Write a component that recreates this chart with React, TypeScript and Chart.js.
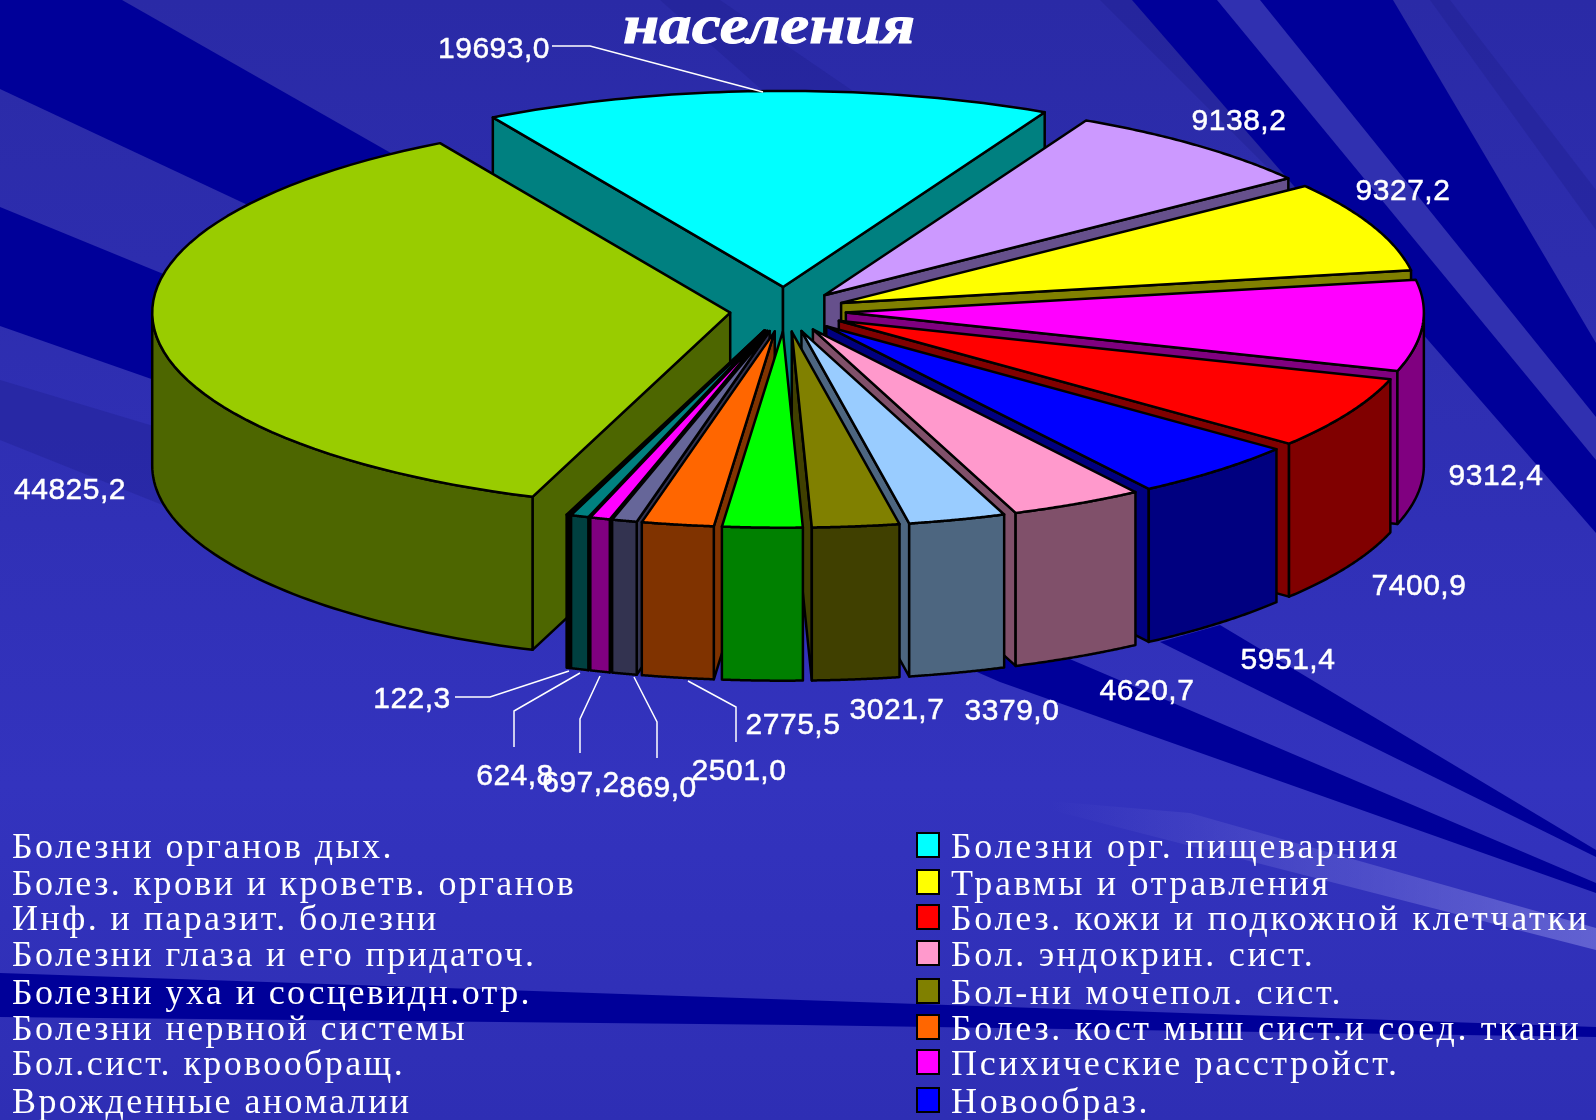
import React, { useEffect, useRef } from "react";
import { Chart, registerables } from "chart.js";

Chart.register(...registerables);

const chartTitle = "населения";
const categories = [
  "Болезни органов дых.",
  "Болезни орг. пищеварния",
  "Болез. крови и кроветв. органов",
  "Травмы и отравления",
  "Психические расстройст.",
  "Болез. кожи и подкожной клетчатки",
  "Новообраз.",
  "Бол. эндокрин. сист.",
  "Инф. и паразит. болезни",
  "Бол-ни мочепол. сист.",
  "Болезни глаза и его придаточ.",
  "Болез. кост мыш сист.и соед. ткани",
  "Болезни уха и сосцевидн.отр.",
  "Болезни нервной системы",
  "Бол.сист. кровообращ.",
  "Врожденные аномалии",
];
const values = [44825.2, 19693.0, 9138.2, 9327.2, 9312.4, 7400.9, 5951.4, 4620.7, 3379.0, 3021.7, 2775.5, 2501.0, 869.0, 697.2, 624.8, 122.3];
const valueTexts = ["44825,2", "19693,0", "9138,2", "9327,2", "9312,4", "7400,9", "5951,4", "4620,7", "3379,0", "3021,7", "2775,5", "2501,0", "869,0", "697,2", "624,8", "122,3"];
const topColors = ["#99CC00", "#00FFFF", "#CC99FF", "#FFFF00", "#FF00FF", "#FF0000", "#0000FF", "#FF99CC", "#99CCFF", "#808000", "#00FF00", "#FF6600", "#666699", "#FF00FF", "#008080", "#000000"];
const sideColors = ["#4D6600", "#008080", "#66508C", "#808000", "#800080", "#800000", "#000080", "#80506A", "#4D6680", "#404000", "#008000", "#803300", "#333350", "#800080", "#004040", "#000000"];
const explode = [55, 71, 61, 61, 61, 61, 61, 61, 61, 61, 61, 61, 61, 61, 61, 61];
const legendLeft = ["Болезни органов дых.", "Болез. крови и кроветв. органов", "Инф. и паразит. болезни", "Болезни глаза и его придаточ.", "Болезни уха и сосцевидн.отр.", "Болезни нервной системы", "Бол.сист. кровообращ.", "Врожденные аномалии"];
const legendRight = ["Болезни орг. пищеварния", "Травмы и отравления", "Болез. кожи и подкожной клетчатки", "Бол. эндокрин. сист.", "Бол-ни мочепол. сист.", "Болез. кост мыш сист.и соед. ткани", "Психические расстройст.", "Новообраз."];

// layout (pixels)
const W = 1596, H = 1120;
const CX = 785, CY = 311, RX = 578, RY = 196, DEPTH = 153;
const legendBaselines = [858, 895, 930, 966, 1004, 1040, 1075, 1113];
const labelPos: [number, number][] = [[70, 491], [494, 50], [1239, 122], [1403, 192], [1496, 477], [1419, 587], [1288, 661], [1147, 692], [1012, 712], [897, 711], [793, 726], [739, 772], [658, 789], [581, 784], [515, 777], [412, 700]];
const leaders: [number, number][][] = [
  [[552, 46], [590, 46], [763, 92]],
  [[455, 697], [490, 697], [569, 671]],
  [[514, 747], [514, 711], [580, 673]],
  [[580, 753], [580, 719], [600, 676]],
  [[657, 758], [657, 722], [634, 677]],
  [[736, 742], [736, 707], [688, 681]],
];
const DARK = "#000099";
const darkRays: [number, number][][] = [
  [[0, 0], [122, 0], [600, 272], [600, 370], [0, 89]],
  [[0, 207], [400, 371], [400, 466], [0, 326]],
  [[1132, 0], [1393, 0], [1596, 343], [1596, 533]],
  [[1220, 625], [1596, 850], [1596, 857], [1160, 642]],
  [[880, 570], [1072, 660], [1596, 883], [1596, 893], [1000, 682], [880, 630]],
  [[0, 973], [800, 1000], [1596, 1027], [1596, 1037], [800, 1025], [0, 1017]],
];
const lightRays: [number, number][][] = [
  [[1217, 0], [1260, 0], [1596, 417], [1596, 460]],
];
const subtleRays: [number, number][][] = [
  [[660, 0], [720, 0], [1100, 260], [1000, 300]],
  [[0, 380], [300, 470], [300, 560], [0, 440]],
  [[1100, 0], [1135, 0], [1380, 240], [1340, 240]],
  [[1430, 0], [1450, 0], [1596, 190], [1596, 230]],
];

function poly(ctx: CanvasRenderingContext2D, pts: number[][], close = true) {
  ctx.beginPath();
  pts.forEach((p, i) => (i ? ctx.lineTo(p[0], p[1]) : ctx.moveTo(p[0], p[1])));
  if (close) ctx.closePath();
}

function drawBackground(ctx: CanvasRenderingContext2D) {
  const g = ctx.createLinearGradient(0, 0, 0, H);
  g.addColorStop(0, "#2A2AA6");
  g.addColorStop(0.7, "#3333BE");
  g.addColorStop(1, "#2E2EB4");
  ctx.fillStyle = g;
  ctx.fillRect(0, 0, W, H);
  ctx.fillStyle = "rgba(30,30,140,0.35)";
  subtleRays.forEach((r) => { poly(ctx, r); ctx.fill(); });
  ctx.fillStyle = DARK;
  darkRays.forEach((r) => { poly(ctx, r); ctx.fill(); });
  ctx.fillStyle = "#3030B0";
  lightRays.forEach((r) => { poly(ctx, r); ctx.fill(); });
  const b = ctx.createLinearGradient(1050, 0, 1596, 0);
  b.addColorStop(0, "rgba(130,130,225,0)");
  b.addColorStop(1, "rgba(130,130,225,0.6)");
  ctx.fillStyle = b;
  poly(ctx, [[1000, 797], [1190, 813], [1596, 928], [1596, 950]]);
  ctx.fill();
}

function geometry(chart: any) {
  const arcs = chart.getDatasetMeta(0).data;
  return arcs.map((a: any, i: number) => {
    const mid = (a.startAngle + a.endAngle) / 2;
    const ax = CX + Math.cos(mid) * explode[i];
    const ay = CY + (Math.sin(mid) * explode[i] * RY) / RX;
    return { i, arc: a, a0: a.startAngle, a1: a.endAngle, ax, ay, key: ay + Math.sin(mid) * RY };
  });
}

const piePlugin = {
  id: "pie3d",
  beforeDraw(chart: any) {
    drawBackground(chart.ctx);
  },
  beforeDatasetsDraw(chart: any) {
    const ctx: CanvasRenderingContext2D = chart.ctx;
    const geo = geometry(chart);
    const at = (g: any, t: number, z = 0) => [g.ax + Math.cos(t) * RX, g.ay + Math.sin(t) * RY + z];
    ctx.save();
    ctx.lineJoin = "round";
    ctx.strokeStyle = "#000";
    ctx.lineWidth = 2.5;
    [...geo].sort((p: any, q: any) => p.key - q.key).forEach((g: any) => {
      ctx.fillStyle = sideColors[g.i];
      const face = (t: number) => {
        const e = at(g, t);
        poly(ctx, [[g.ax, g.ay], e, [e[0], e[1] + DEPTH], [g.ax, g.ay + DEPTH]]);
        ctx.fill();
        ctx.stroke();
      };
      if (Math.sin(g.a0 - Math.PI / 2) > 0) face(g.a0);
      if (Math.sin(g.a1 + Math.PI / 2) > 0) face(g.a1);
      for (let k = -1; k <= 1; k++) {
        const lo = Math.max(g.a0, k * 2 * Math.PI);
        const hi = Math.min(g.a1, k * 2 * Math.PI + Math.PI);
        if (hi <= lo) continue;
        const pts: number[][] = [];
        const n = 60;
        for (let j = 0; j <= n; j++) pts.push(at(g, lo + ((hi - lo) * j) / n));
        for (let j = n; j >= 0; j--) pts.push(at(g, lo + ((hi - lo) * j) / n, DEPTH));
        poly(ctx, pts);
        ctx.fill();
        ctx.stroke();
      }
    });
    ctx.restore();
  },
  // the top faces: the library's own arc elements, each moved out and flattened
  beforeDatasetDraw(chart: any) {
    const ctx: CanvasRenderingContext2D = chart.ctx;
    geometry(chart).forEach((g: any) => {
      const a = g.arc;
      ctx.save();
      ctx.translate(g.ax, g.ay);
      ctx.scale(RX / a.outerRadius, RY / a.outerRadius);
      ctx.translate(-a.x, -a.y);
      a.draw(ctx);
      ctx.restore();
    });
    return false;
  },
  afterDatasetsDraw(chart: any) {
    const ctx: CanvasRenderingContext2D = chart.ctx;
    ctx.save();
    ctx.strokeStyle = "#000";
    ctx.lineWidth = 2.5;
    ctx.lineJoin = "round";
    geometry(chart).forEach((g: any) => {
      const pts: number[][] = [[g.ax, g.ay]];
      for (let j = 0; j <= 60; j++) {
        const t = g.a0 + ((g.a1 - g.a0) * j) / 60;
        pts.push([g.ax + Math.cos(t) * RX, g.ay + Math.sin(t) * RY]);
      }
      poly(ctx, pts);
      ctx.stroke();
    });
    ctx.restore();

    ctx.save();
    ctx.strokeStyle = "#FFFFFF";
    ctx.lineWidth = 1.5;
    leaders.forEach((l) => { poly(ctx, l, false); ctx.stroke(); });

    // data labels
    ctx.fillStyle = "#FFFFFF";
    ctx.strokeStyle = "#FFFFFF";
    ctx.lineWidth = 0.5;
    ctx.font = '30px "Liberation Sans"';
    (ctx as any).letterSpacing = "0.5px";
    ctx.textAlign = "center";
    ctx.textBaseline = "middle";
    valueTexts.forEach((t, i) => {
      ctx.fillText(t, labelPos[i][0], labelPos[i][1]);
      ctx.strokeText(t, labelPos[i][0], labelPos[i][1]);
    });

    // legend
    ctx.textAlign = "left";
    ctx.textBaseline = "alphabetic";
    ctx.font = '36px "Liberation Serif"';
    (ctx as any).letterSpacing = "2.4px";
    legendLeft.forEach((t, i) => ctx.fillText(t, 12, legendBaselines[i]));
    (ctx as any).letterSpacing = "2.7px";
    legendRight.forEach((t, i) => {
      ctx.fillStyle = topColors[categories.indexOf(t)];
      ctx.strokeStyle = "#000";
      ctx.lineWidth = 2;
      ctx.fillRect(917, legendBaselines[i] - 25, 22, 24);
      ctx.strokeRect(917, legendBaselines[i] - 25, 22, 24);
      ctx.fillStyle = "#FFFFFF";
      ctx.fillText(t, 951, legendBaselines[i]);
    });

    // title
    (ctx as any).letterSpacing = "0px";
    ctx.font = 'italic bold 54px "Liberation Serif"';
    const w = ctx.measureText(chartTitle).width;
    ctx.translate(623, 43);
    ctx.scale(292 / w, 1);
    ctx.fillText(chartTitle, 0, 0);
    ctx.strokeStyle = "#FFFFFF";
    ctx.lineWidth = 1;
    ctx.strokeText(chartTitle, 0, 0);
    ctx.restore();
  },
};

export default function App() {
  const ref = useRef<HTMLCanvasElement>(null);
  useEffect(() => {
    document.body.style.margin = "0";
    const chart = new Chart(ref.current as HTMLCanvasElement, {
      type: "pie",
      data: {
        labels: categories,
        datasets: [{
          data: values,
          backgroundColor: topColors,
          borderWidth: 0,
          hoverOffset: 0,
        } as any],
      },
      options: {
        responsive: false,
        animation: false,
        rotation: 200,
        layout: { padding: 0 },
        plugins: { legend: { display: false }, title: { display: false }, tooltip: { enabled: false } },
      },
      plugins: [piePlugin],
    } as any);
    return () => chart.destroy();
  }, []);
  return <canvas ref={ref} width={W} height={H} style={{ display: "block" }} />;
}
